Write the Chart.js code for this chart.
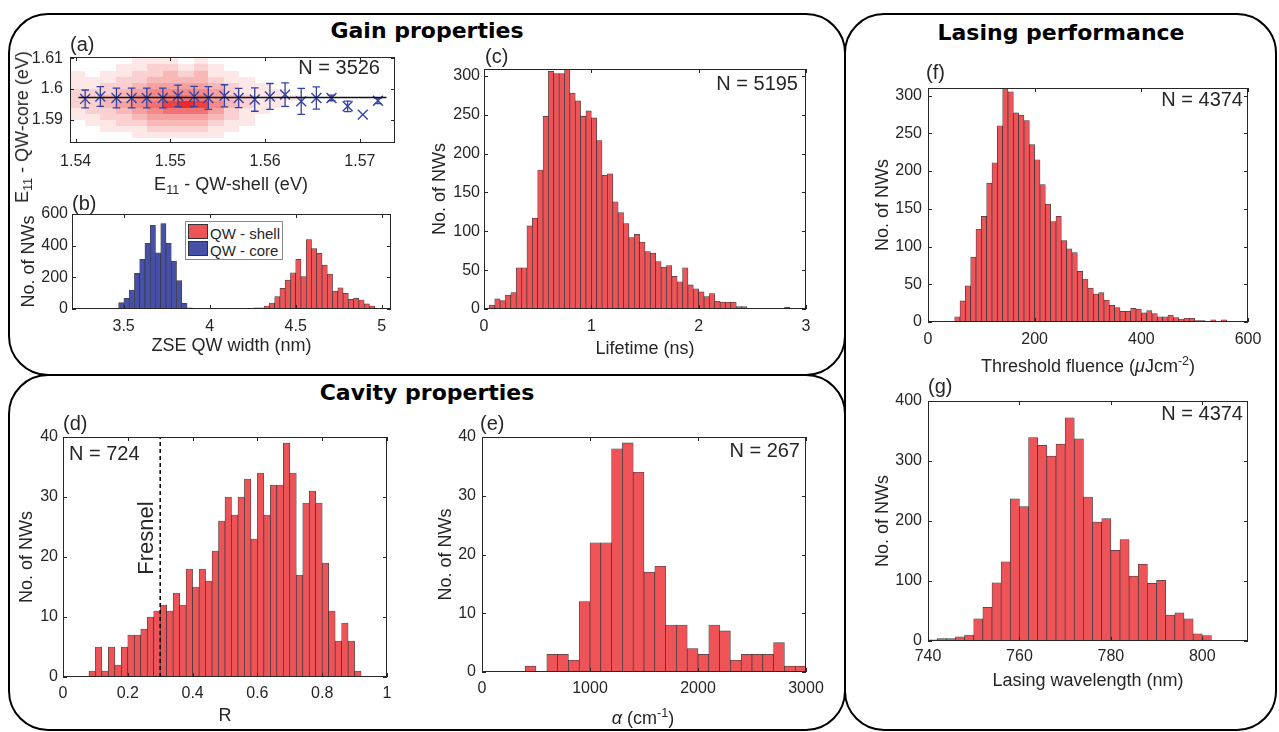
<!DOCTYPE html>
<html>
<head>
<meta charset="utf-8">
<script src="https://cdn.jsdelivr.net/npm/chart.js@4.4.1/dist/chart.umd.min.js"></script>
<style>
body { margin: 0; background: #fff; width: 1279px; height: 732px; position: relative; overflow: hidden;
       font-family: "Liberation Sans", Arial, sans-serif; color: #262626; }
.box { position: absolute; border: 2.5px solid #000; border-radius: 40px; box-sizing: border-box; }
.title { position: absolute; font-family: "DejaVu Sans", sans-serif; font-weight: bold; font-size: 22px;
         color: #000; transform: translate(-50%, -50%); white-space: nowrap; }
.txt { position: absolute; white-space: nowrap; line-height: 1; }
.txt sub { font-size: 70%; line-height: 0; vertical-align: -0.35em; }
.txt sup { font-size: 70%; line-height: 0; vertical-align: 0.55em; }
canvas { position: absolute; }
#legB { position: absolute; left: 185px; top: 221px; width: 98px; height: 39px; border: 1px solid #8a8a8a;
        background: #fff; box-sizing: border-box; font-size: 15px; }
#legB .sw { position: absolute; left: 2px; width: 20px; height: 15px; border: 1px solid #333; box-sizing: border-box; }
#legB .lt { position: absolute; left: 24px; line-height: 1; }
</style>
</head>
<body>
<div class="box" style="left:8px;top:13px;width:838px;height:363px"></div>
<div class="box" style="left:8px;top:374px;width:838px;height:357px"></div>
<div class="box" style="left:844px;top:13px;width:433px;height:718px"></div>

<div class="title" style="left:427px;top:30px">Gain properties</div>
<div class="title" style="left:427px;top:392px">Cavity properties</div>
<div class="title" style="left:1061px;top:32px">Lasing performance</div>

<canvas id="chartA"></canvas>
<canvas id="chartB"></canvas>
<canvas id="chartC"></canvas>
<canvas id="chartD"></canvas>
<canvas id="chartE"></canvas>
<canvas id="chartF"></canvas>
<canvas id="chartG"></canvas>

<div id="legB">
  <div class="sw" style="top:2px;background:#ee5358"></div><div class="lt" style="top:4px">QW - shell</div>
  <div class="sw" style="top:19px;background:#4650a8"></div><div class="lt" style="top:21px">QW - core</div>
</div>

<script>
// ---------- data ----------
// (a) mean core energy per shell-energy bin, with std as error bar
const aX = [1.5410, 1.5426, 1.5443, 1.5459, 1.5475, 1.5492, 1.5508, 1.5525, 1.5540, 1.5557,
            1.5572, 1.5589, 1.5605, 1.5621, 1.5638, 1.5654, 1.5670, 1.5687, 1.5703, 1.5719];
const aY = [1.5968, 1.5976, 1.5971, 1.5971, 1.5971, 1.5971, 1.5978, 1.5976, 1.5971, 1.5978,
            1.5971, 1.5966, 1.5976, 1.5982, 1.5960, 1.5971, 1.5971, 1.5944, 1.5917, 1.5962];
const aErr = [0.0029, 0.0032, 0.0032, 0.0032, 0.0032, 0.0032, 0.0035, 0.0033, 0.0037, 0.0036,
              0.0031, 0.0038, 0.0042, 0.0038, 0.0042, 0.0036, 0.0009, 0.0017, 0, 0.0009];
const aFitX = [1.5403, 1.5728];
const aFitY = [1.5973, 1.5973];
// (a) 2D histogram behind the points
const heatXEdges = [1.5394, 1.5410, 1.5426, 1.5443, 1.5459, 1.5475, 1.5492, 1.5508, 1.5525,
                    1.5540, 1.5557, 1.5572, 1.5589, 1.5605, 1.5621, 1.5638, 1.5654];
const heatYEdges = [1.610, 1.608, 1.606, 1.604, 1.602, 1.600, 1.598, 1.596, 1.594, 1.592, 1.590, 1.588, 1.586, 1.584];
const heatLevels = [
  [0,0,0,0,1,1,1,0,1,0,0,0,0,0,0,0],
  [0,0,0,1,1,2,2,1,2,1,0,0,0,0,0,0],
  [1,0,1,1,2,2,3,2,3,1,1,0,0,0,0,0],
  [1,1,1,2,2,3,3,3,3,2,1,1,0,0,0,0],
  [1,1,2,2,3,4,4,4,4,3,2,1,1,0,0,0],
  [2,2,2,3,4,5,5,5,5,4,2,1,1,1,0,0],
  [2,2,3,3,5,5,6,6,6,4,3,2,1,1,1,0],
  [2,2,3,4,5,6,8,9,8,5,3,2,1,1,0,0],
  [1,2,2,3,4,5,6,6,6,4,2,1,1,0,0,0],
  [1,1,2,2,3,4,4,4,4,3,2,1,0,0,0,0],
  [0,1,1,2,2,3,3,3,3,2,1,1,0,0,0,0],
  [0,0,1,1,1,2,2,2,2,1,1,0,0,0,0,0],
  [0,0,0,0,1,1,1,1,1,1,0,0,0,0,0,0]
];

// (b) ZSE QW width
const coreCenters = [3.4863, 3.5169, 3.5475, 3.5781, 3.6087, 3.6393, 3.6699, 3.7005, 3.7311, 3.7617, 3.7923, 3.8229, 3.8535, 3.8841];
const coreCounts = [40, 67, 120, 225, 313, 414, 529, 355, 540, 414, 303, 179, 36, 8];
const shellCenters = [4.1483, 4.1789, 4.2095, 4.2401, 4.2707, 4.3013, 4.3319, 4.3625, 4.3931, 4.4237,
                      4.4543, 4.4849, 4.5155, 4.5461, 4.5767, 4.6073, 4.6379, 4.6685, 4.6991, 4.7297,
                      4.7603, 4.7909, 4.8215, 4.8521, 4.8827, 4.9133, 4.9439];
const shellCounts = [1, 1, 4, 4, 8, 8, 19, 38, 78, 130, 183, 229, 313, 204, 439, 382, 351, 277, 221, 113,
                     134, 99, 61, 67, 57, 32, 19];

// (c) lifetime
const lifeCenters = [0.025, 0.075, 0.125, 0.175, 0.225, 0.275, 0.325, 0.375, 0.425, 0.475,
                     0.525, 0.575, 0.625, 0.675, 0.725, 0.775, 0.825, 0.875, 0.925, 0.975,
                     1.025, 1.075, 1.125, 1.175, 1.225, 1.275, 1.325, 1.375, 1.425, 1.475,
                     1.525, 1.575, 1.625, 1.675, 1.725, 1.775, 1.825, 1.875, 1.925, 1.975,
                     2.025, 2.075, 2.125, 2.175, 2.225, 2.275, 2.325, 2.375, 2.425, 2.475,
                     2.525, 2.575, 2.625, 2.675, 2.725, 2.775, 2.825, 2.875, 2.925, 2.975];
const lifeCounts = [0, 5, 13, 11, 18, 21, 53, 53, 107, 117,
                    179, 248, 306, 303, 303, 309, 278, 268, 248, 255,
                    246, 217, 172, 174, 138, 124, 110, 92, 96, 86,
                    74, 72, 61, 54, 56, 42, 35, 53, 31, 26,
                    22, 16, 20, 10, 9, 9, 9, 3, 3, 1,
                    0, 1, 1, 1, 0, 1, 2, 0, 0, 0];

// (d) end-facet reflectivity R
const rCenters = [0.09, 0.11, 0.13, 0.15, 0.17, 0.19, 0.21, 0.23, 0.25, 0.27,
                  0.29, 0.31, 0.33, 0.35, 0.37, 0.39, 0.41, 0.43, 0.45, 0.47,
                  0.49, 0.51, 0.53, 0.55, 0.57, 0.59, 0.61, 0.63, 0.65, 0.67,
                  0.69, 0.71, 0.73, 0.75, 0.77, 0.79, 0.81, 0.83, 0.85, 0.87,
                  0.89, 0.91];
const rCounts = [1, 5, 1, 5, 2, 5, 7, 7, 8, 10,
                 11, 12, 11, 14, 12, 18, 15, 18, 16, 21,
                 26, 30, 27, 30, 33, 23, 34, 27, 32, 32,
                 39, 34, 17, 29, 31, 29, 19, 11, 6, 9,
                 6, 1];
const fresnelX = [0.3, 0.3];
const fresnelY = [0, 40];

// (e) alpha
const alphaCenters = [450, 550, 650, 750, 850, 950, 1050, 1150, 1250, 1350, 1450, 1550, 1650,
                      1750, 1850, 1950, 2050, 2150, 2250, 2350, 2450, 2550, 2650, 2750, 2850, 2950];
const alphaCounts = [1, 0, 3, 3, 2, 12, 22, 22, 38, 39, 34, 17, 18, 8, 8, 4, 3, 8, 7, 2, 3, 3, 3, 5, 1, 1];

// (f) threshold fluence
const fluCenters = [55, 65, 75, 85, 95, 105, 115, 125, 135, 145,
                    155, 165, 175, 185, 195, 205, 215, 225, 235, 245,
                    255, 265, 275, 285, 295, 305, 315, 325, 335, 345,
                    355, 365, 375, 385, 395, 405, 415, 425, 435, 445,
                    455, 465, 475, 485, 495, 505, 515, 525, 535, 545, 555, 565, 575, 585, 595];
const fluCounts = [7, 28, 48, 86, 123, 140, 184, 211, 260, 310,
                   305, 277, 274, 267, 235, 215, 182, 156, 133, 140,
                   108, 97, 92, 67, 57, 45, 37, 39, 29, 22,
                   19, 14, 14, 18, 17, 12, 15, 11, 7, 7,
                   9, 6, 4, 5, 5, 2, 2, 1, 3, 0, 3, 1, 1, 0, 1];

// (g) lasing wavelength
const wlCenters = [741, 743, 745, 747, 749, 751, 753, 755, 757, 759, 761, 763, 765, 767, 769, 771,
                   773, 775, 777, 779, 781, 783, 785, 787, 789, 791, 793, 795, 797, 799, 801, 803];
const wlCounts = [2, 4, 4, 7, 10, 37, 56, 97, 132, 237, 224, 339, 326, 308, 328, 372,
                  337, 240, 198, 204, 151, 169, 108, 128, 96, 101, 43, 47, 37, 12, 9, 1];

// ---------- drawing ----------
const FONT = '"Liberation Sans", Arial, Helvetica, sans-serif';
const INK = '#262626';
const RED = '#ee5358';
const BLUE = '#4650a8';
const MARK = '#3343a3';
const EDGE = 'rgba(30,30,30,0.85)';
const PAD_TOP = 20, PAD_RIGHT = 30;

// box around the axes with inward ticks on all four sides
const matlabBox = {
  id: 'matlabBox',
  afterDatasetsDraw(chart) {
    const { ctx, chartArea: a, scales: { x, y } } = chart;
    const len = 4;
    ctx.save();
    ctx.strokeStyle = INK;
    ctx.lineWidth = 1;
    ctx.strokeRect(a.left + 0.5, a.top + 0.5, a.right - a.left - 1, a.bottom - a.top - 1);
    ctx.beginPath();
    x.ticks.forEach(t => {
      const px = Math.round(x.getPixelForValue(t.value)) + 0.5;
      ctx.moveTo(px, a.bottom); ctx.lineTo(px, a.bottom - len);
      ctx.moveTo(px, a.top); ctx.lineTo(px, a.top + len);
    });
    y.ticks.forEach(t => {
      const py = Math.round(y.getPixelForValue(t.value)) + 0.5;
      ctx.moveTo(a.left, py); ctx.lineTo(a.left + len, py);
      ctx.moveTo(a.right, py); ctx.lineTo(a.right - len, py);
    });
    ctx.stroke();
    ctx.restore();
  }
};

const heatPlugin = {
  id: 'heat',
  beforeDatasetsDraw(chart) {
    const { ctx, chartArea: a, scales: { x, y } } = chart;
    ctx.save();
    ctx.beginPath();
    ctx.rect(a.left, a.top, a.right - a.left, a.bottom - a.top);
    ctx.clip();
    heatLevels.forEach((row, r) => {
      row.forEach((v, c) => {
        if (!v) return;
        const x0 = Math.round(x.getPixelForValue(heatXEdges[c]));
        const x1 = Math.round(x.getPixelForValue(heatXEdges[c + 1]));
        const y0 = Math.round(y.getPixelForValue(heatYEdges[r]));
        const y1 = Math.round(y.getPixelForValue(heatYEdges[r + 1]));
        ctx.fillStyle = 'rgba(232, 24, 24, ' + (v / 9 * 0.92).toFixed(3) + ')';
        ctx.fillRect(x0, y0, x1 - x0, y1 - y0);
      });
    });
    ctx.restore();
  }
};

function buildChart(id, type, p, datasets, extra) {
  const cv = document.getElementById(id);
  const left = p.l - p.yW, top = p.t - PAD_TOP;
  cv.width = p.r - left + PAD_RIGHT;
  cv.height = p.b - top + p.xH;
  cv.style.left = left + 'px';
  cv.style.top = top + 'px';
  const tickFont = { family: FONT, size: 16, lineHeight: 1.2 };
  const titleFont = { family: FONT, size: 18, lineHeight: 1.2 };
  return new Chart(cv, {
    type: type,
    data: { datasets: datasets },
    options: {
      responsive: false,
      animation: false,
      layout: { padding: { top: PAD_TOP, right: PAD_RIGHT, left: 0, bottom: 0 } },
      plugins: { legend: { display: false }, tooltip: { enabled: false } },
      scales: {
        x: {
          type: 'linear', min: p.xMin, max: p.xMax, offset: false,
          grid: { display: false, drawTicks: false }, border: { display: false },
          afterBuildTicks: s => { s.ticks = p.xTicks.map(v => ({ value: v })); },
          afterFit: s => { s.height = p.xH; },
          ticks: { font: tickFont, color: INK, padding: p.xPad, autoSkip: false, maxRotation: 0, minRotation: 0,
                   callback: (v, i) => p.xLabels[i] },
          title: { display: !!p.xTitle, text: p.xTitle || '', font: titleFont, color: INK, padding: 0 }
        },
        y: {
          type: 'linear', min: p.yMin, max: p.yMax,
          grid: { display: false, drawTicks: false }, border: { display: false },
          afterBuildTicks: s => { s.ticks = p.yTicks.map(v => ({ value: v })); },
          afterFit: s => { s.width = p.yW; },
          ticks: { font: tickFont, color: INK, padding: p.yPad, autoSkip: false,
                   callback: (v, i) => p.yLabels[i] },
          title: { display: !!p.yTitle, text: p.yTitle || '', font: titleFont, color: INK, padding: 0 }
        }
      }
    },
    plugins: [matlabBox].concat(extra || [])
  });
}

function hist(centers, counts, color) {
  return {
    type: 'bar',
    data: centers.map((c, i) => ({ x: c, y: counts[i] })),
    backgroundColor: color, borderColor: EDGE, borderWidth: 0.7, borderSkipped: false,
    barPercentage: 1, categoryPercentage: 1, grouped: false, order: 1
  };
}

// (a)
const errPts = [];
const capW = 0.0004;
aX.forEach((xv, i) => {
  const e = aErr[i];
  if (!e) return;
  const lo = aY[i] - e, hi = aY[i] + e;
  errPts.push({ x: xv, y: lo }, { x: xv, y: hi }, { x: xv, y: null });
  errPts.push({ x: xv - capW, y: hi }, { x: xv + capW, y: hi }, { x: xv, y: null });
  errPts.push({ x: xv - capW, y: lo }, { x: xv + capW, y: lo }, { x: xv, y: null });
});
buildChart('chartA', 'scatter', {
  l: 70, t: 57, r: 395, b: 143, yW: 60, xH: 40, xPad: 9, yPad: 7,
  xMin: 1.5394, xMax: 1.5737, yMin: 1.5825, yMax: 1.6104,
  xTicks: [1.54, 1.55, 1.56, 1.57], xLabels: ['1.54', '1.55', '1.56', '1.57'],
  yTicks: [1.59, 1.6, 1.61], yLabels: ['1.59', '1.6', '1.61']
}, [
  { data: errPts, showLine: true, spanGaps: false, pointRadius: 0, borderColor: MARK, borderWidth: 1.3, order: 2 },
  { data: aX.map((v, i) => ({ x: v, y: aY[i] })), showLine: false, pointStyle: 'crossRot', pointRadius: 7,
    pointBorderWidth: 1.4, borderColor: MARK, backgroundColor: MARK, order: 1 },
  { data: aFitX.map((v, i) => ({ x: v, y: aFitY[i] })), showLine: true, pointRadius: 0,
    borderColor: '#111', borderWidth: 1.5, order: 0 }
], [heatPlugin]);

// (b)
buildChart('chartB', 'bar', {
  l: 72, t: 214, r: 391, b: 309, yW: 54, xH: 48, xPad: 8, yPad: 4,
  xMin: 3.2, xMax: 5.054, yMin: 0, yMax: 600,
  xTicks: [3.5, 4, 4.5, 5], xLabels: ['3.5', '4', '4.5', '5'],
  yTicks: [0, 200, 400, 600], yLabels: ['0', '200', '400', '600'],
  xTitle: 'ZSE QW width (nm)', yTitle: 'No. of NWs'
}, [hist(shellCenters, shellCounts, RED), hist(coreCenters, coreCounts, BLUE)]);

// (c)
buildChart('chartC', 'bar', {
  l: 484, t: 69, r: 806, b: 309, yW: 55, xH: 51, xPad: 8, yPad: 4,
  xMin: 0, xMax: 3, yMin: 0, yMax: 309,
  xTicks: [0, 1, 2, 3], xLabels: ['0', '1', '2', '3'],
  yTicks: [0, 50, 100, 150, 200, 250, 300], yLabels: ['0', '50', '100', '150', '200', '250', '300'],
  xTitle: 'Lifetime (ns)', yTitle: 'No. of NWs'
}, [hist(lifeCenters, lifeCounts, RED)]);

// (d)
buildChart('chartD', 'bar', {
  l: 63, t: 437, r: 387, b: 677, yW: 47, xH: 50, xPad: 7, yPad: 5,
  xMin: 0, xMax: 1, yMin: 0, yMax: 40,
  xTicks: [0, 0.2, 0.4, 0.6, 0.8, 1], xLabels: ['0', '0.2', '0.4', '0.6', '0.8', '1'],
  yTicks: [0, 10, 20, 30, 40], yLabels: ['0', '10', '20', '30', '40'],
  xTitle: 'R', yTitle: 'No. of NWs'
}, [
  hist(rCenters, rCounts, RED),
  { type: 'line', data: fresnelX.map((v, i) => ({ x: v, y: fresnelY[i] })), borderColor: '#000',
    borderWidth: 1.5, borderDash: [4, 3], pointRadius: 0, order: 0 }
]);

// (e)
buildChart('chartE', 'bar', {
  l: 482, t: 437, r: 806, b: 672, yW: 47, xH: 40, xPad: 7, yPad: 6,
  xMin: 0, xMax: 3000, yMin: 0, yMax: 40,
  xTicks: [0, 1000, 2000, 3000], xLabels: ['0', '1000', '2000', '3000'],
  yTicks: [0, 10, 20, 30, 40], yLabels: ['0', '10', '20', '30', '40'],
  yTitle: 'No. of NWs'
}, [hist(alphaCenters, alphaCounts, RED)]);

// (f)
buildChart('chartF', 'bar', {
  l: 928, t: 88, r: 1248, b: 322, yW: 56, xH: 40, xPad: 8, yPad: 6,
  xMin: 0, xMax: 600, yMin: 0, yMax: 310,
  xTicks: [0, 200, 400, 600], xLabels: ['0', '200', '400', '600'],
  yTicks: [0, 50, 100, 150, 200, 250, 300], yLabels: ['0', '50', '100', '150', '200', '250', '300'],
  yTitle: 'No. of NWs'
}, [hist(fluCenters, fluCounts, RED)]);

// (g)
buildChart('chartG', 'bar', {
  l: 928, t: 401, r: 1248, b: 641, yW: 56, xH: 51, xPad: 6, yPad: 6,
  xMin: 740, xMax: 810, yMin: 0, yMax: 400,
  xTicks: [740, 760, 780, 800], xLabels: ['740', '760', '780', '800'],
  yTicks: [0, 100, 200, 300, 400], yLabels: ['0', '100', '200', '300', '400'],
  xTitle: 'Lasing wavelength (nm)', yTitle: 'No. of NWs'
}, [hist(wlCenters, wlCounts, RED)]);

// ---------- text overlays ----------
function addText(html, x, y, size, align, rotate) {
  const d = document.createElement('div');
  d.className = 'txt';
  d.innerHTML = html;
  d.style.left = x + 'px';
  d.style.top = y + 'px';
  d.style.fontSize = size + 'px';
  const tx = align === 'right' ? '-100%' : align === 'left' ? '0' : '-50%';
  d.style.transform = 'translate(' + tx + ', -50%)' + (rotate ? ' rotate(' + rotate + 'deg)' : '');
  document.body.appendChild(d);
}

addText('(a)', 70, 44, 20, 'left');
addText('(b)', 72, 203, 20, 'left');
addText('(c)', 485, 56, 20, 'left');
addText('(d)', 63, 423, 20, 'left');
addText('(e)', 480, 423, 20, 'left');
addText('(f)', 926, 72, 20, 'left');
addText('(g)', 928, 386, 20, 'left');

addText('N = 3526', 380, 67, 20, 'right');
addText('N = 5195', 798, 83, 20, 'right');
addText('N = 724', 69, 453, 20, 'left');
addText('N = 267', 800, 450, 20, 'right');
addText('N = 4374', 1243, 99, 20, 'right');
addText('N = 4374', 1243, 413, 20, 'right');

addText('E<sub>11</sub> - QW-shell (eV)', 231, 184, 18, 'center');
addText('E<sub>11</sub> - QW-core (eV)', 22, 127, 18, 'center', -90);
addText('<i>α</i> (cm<sup>-1</sup>)', 643, 718, 18, 'center');
addText('Threshold fluence (<i>μ</i>Jcm<sup>-2</sup>)', 1088, 366, 18, 'center');
addText('Fresnel', 146, 538, 22, 'center', -90);
</script>
</body>
</html>
